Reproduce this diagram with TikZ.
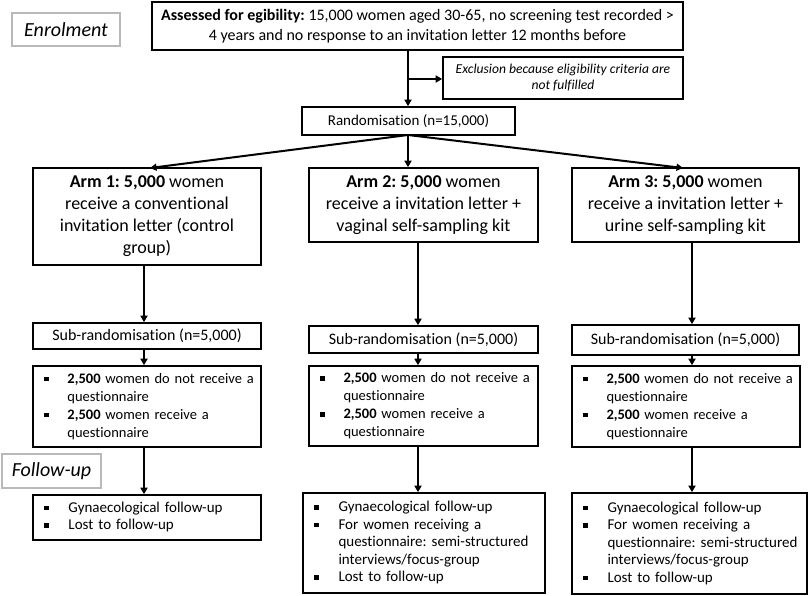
\documentclass[tikz,border=0pt]{standalone}
\usepackage{fontspec}
\setmainfont{Carlito}[Ligatures={NoCommon}]
\usetikzlibrary{arrows.meta}
\definecolor{lblgray}{RGB}{185,185,185}
\frenchspacing
\newcommand\bsq{\raisebox{2pt}{\rule{4.5pt}{4.5pt}}}
\newcommand\fsA{\fontsize{16}{19.5}\selectfont}
\newcommand\fsB{\fontsize{18}{22}\selectfont}
\newcommand\fsC{\fontsize{14.5}{18}\selectfont}
\newcommand\fsS{\fontsize{16}{18}\selectfont}
\newcommand\fsR{\fontsize{15}{18}\selectfont}
\newcommand\fsD{\fontsize{15}{17.5}\selectfont}
\begin{document}
\begin{tikzpicture}[x=1pt,y=-1pt,
  box/.style={draw=black, line width=1.6pt, inner sep=0pt, align=center},
  lbl/.style={draw=lblgray, line width=2pt, inner sep=0pt, align=center, font=\fontsize{20}{24}\selectfont\itshape},
  blist/.style={box, align=left, inner xsep=11pt},
  arr/.style={line width=2pt, -{Triangle[length=6.5pt,width=7pt]}},
  ln/.style={line width=2pt}]
\useasboundingbox (0,0) rectangle (809,596);

% labels
\node[lbl, minimum width=108pt, minimum height=33pt] (enrol) at (66,29.5) {Enrolment};
\node[lbl, minimum width=99pt, minimum height=34pt] (follow) at (51.5,471) {Follow-up};

% top
\node[box, minimum width=531pt, minimum height=48pt, font=\fsA] (top) at (417.5,26)
  {\textbf{Assessed for egibility:} 15,000 women aged 30-65, no screening test recorded >\\
   4 years and no response to an invitation letter 12 months before};
\node[box, minimum width=240pt, minimum height=42pt, font=\fontsize{13.6}{16}\selectfont\itshape] (excl) at (563,78)
  {Exclusion because eligibility criteria are\\not fulfilled};
\node[box, minimum width=213pt, minimum height=28pt, font=\fsR] (rand) at (408.5,121)
  {Randomisation (n=15,000)};

% arms
\node[box, minimum width=228pt, minimum height=97pt, font=\fsB] (arm1) at (147,216.5)
  {\textbf{Arm 1: 5,000} women\\receive a conventional\\invitation letter (control\\group)};
\node[box, minimum width=229pt, minimum height=74pt, font=\fsB] (arm2) at (423.5,205)
  {\textbf{Arm 2: 5,000} women\\receive a invitation letter +\\vaginal self-sampling kit};
\node[box, minimum width=227pt, minimum height=74pt, font=\fsB] (arm3) at (685.5,205)
  {\textbf{Arm 3: 5,000} women\\receive a invitation letter +\\urine self-sampling kit};

% sub-randomisation
\node[box, minimum width=228pt, minimum height=26pt, font=\fsS] (sub1) at (147,336) {Sub-randomisation (n=5,000)};
\node[box, minimum width=229pt, minimum height=27pt, font=\fsS] (sub2) at (423.5,339.5) {Sub-randomisation (n=5,000)};
\node[box, minimum width=227pt, minimum height=30pt, font=\fsS] (sub3) at (685.5,340) {Sub-randomisation (n=5,000)};

% questionnaire lists
\newcommand\qlist{\begin{tabular}{@{}p{23.5pt}@{}l@{}}
\bsq & \textbf{2,500} women do not receive a\\
     & questionnaire\\
\bsq & \textbf{2,500} women receive a\\
     & questionnaire
\end{tabular}}
\node[blist, text width=206pt, minimum height=81pt, font=\fsC] (bul1) at (147,406.5) {\qlist};
\node[blist, text width=207pt, minimum height=80pt, font=\fsC] (bul2) at (423.5,406) {\qlist};
\node[blist, text width=206pt, minimum height=81pt, font=\fsC] (bul3) at (686,406.5) {\qlist};

% follow-up boxes
\node[blist, text width=206pt, minimum height=45pt, font=\fsD] (fu1) at (147,517.5)
  {\begin{tabular}{@{}p{24.5pt}@{}l@{}}
   \bsq & Gynaecological follow-up\\
   \bsq & Lost to follow-up
   \end{tabular}};
\newcommand\flist{\begin{tabular}{@{}p{24.5pt}@{}l@{}}
   \bsq & Gynaecological follow-up\\
   \bsq & For women receiving a\\
        & questionnaire: semi-structured\\
        & interviews/focus-group\\
   \bsq & Lost to follow-up
   \end{tabular}}
\node[blist, text width=220pt, minimum height=100pt, font=\fsD] (fu2) at (424,543) {\flist};
\node[blist, text width=213pt, minimum height=101pt, font=\fsD] (fu3) at (689.5,543.5) {\flist};

% connectors
\coordinate (br) at (408,79);
\draw[ln] (top.south -| br) -- (br);
\draw[arr] (br) -- (rand.north -| br);
\draw[arr] (br) -- (br -| excl.west);

\coordinate (rs) at (408,135);
\draw[arr] (rs) -- (150,168) coordinate (a1in);
\draw[arr] (rs) -- (arm2.north -| rs);
\draw[arr] (rs) -- (683,168) coordinate (a3in);

\coordinate (c1) at (144,0);
\coordinate (c2) at (418,0);
\coordinate (c3) at (692,0);
\draw[arr] (arm1.south -| c1) -- (sub1.north -| c1);
\draw[arr] (sub1.south -| c1) -- (bul1.north -| c1);
\draw[arr] (bul1.south -| c1) -- (fu1.north -| c1);
\draw[arr] (arm2.south -| c2) -- (sub2.north -| c2);
\draw[arr] (sub2.south -| c2) -- (bul2.north -| c2);
\draw[arr] (bul2.south -| c2) -- (fu2.north -| c2);
\draw[arr] (arm3.south -| c3) -- (sub3.north -| c3);
\draw[arr] (sub3.south -| c3) -- (bul3.north -| c3);
\draw[arr] (bul3.south -| c3) -- (fu3.north -| c3);
\end{tikzpicture}
\end{document}
